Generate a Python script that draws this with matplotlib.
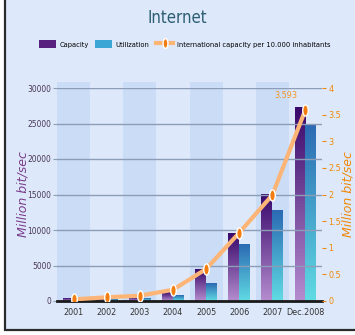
import numpy as np
import matplotlib.pyplot as plt
from matplotlib.patches import Rectangle, Patch
from matplotlib.lines import Line2D
from matplotlib.path import Path
from matplotlib.colors import LinearSegmentedColormap

years = ["2001", "2002", "2003", "2004", "2005", "2006", "2007", "Dec.2008"]
capacity = [350, 300, 550, 1150, 4400, 9500, 15000, 27300]
utilization = [150, 200, 350, 800, 2500, 8000, 12700, 24900]
per_10000 = [0.03, 0.07, 0.10, 0.21, 0.60, 1.28, 1.99, 3.593]

plt.rcParams["font.family"] = ["DejaVu Sans"]
plt.rcParams["font.stretch"] = "condensed"

fig = plt.figure(figsize=(3.55, 3.35), dpi=100)
fig.patch.set_facecolor("white")

# panel behind everything
panel = Rectangle((5 / 355, 5 / 335), 1.2, 1.2, transform=fig.transFigure,
                  facecolor="#dde9fb", edgecolor="#2b2b2b", lw=1.6, zorder=-10)
fig.add_artist(panel)

ax = fig.add_axes([57 / 355, 34 / 335, 265 / 355, 213 / 335])
ax.set_facecolor("none")
x = np.arange(len(years))

# alternating column bands
for i in x:
    if i % 2 == 0:
        ax.axvspan(i - 0.5, i + 0.5, ymin=0, ymax=1.03, color="#cadcf6",
                   lw=0, zorder=0, clip_on=False)

ax.set_yticks(np.arange(0, 30001, 5000))
ax.grid(axis="y", color="#8d9db8", lw=1.0, zorder=1)
ax.set_axisbelow(False)

w = 0.33
cap_cmap = LinearSegmentedColormap.from_list("cap", ["#b48cce", "#3a0a6c"])
util_cmap = LinearSegmentedColormap.from_list("util", ["#60dbe3", "#2c6ab3"])
grad = np.linspace(0, 1, 64).reshape(-1, 1)

bars_c = ax.bar(x - w / 2, capacity, width=w, color="none", lw=0, zorder=2)
bars_u = ax.bar(x + w / 2, utilization, width=w, color="none", lw=0, zorder=2)
for bars, cmap in ((bars_c, cap_cmap), (bars_u, util_cmap)):
    for b in bars:
        x0, h = b.get_x(), b.get_height()
        ax.imshow(grad, cmap=cmap, origin="lower", aspect="auto",
                  extent=(x0, x0 + b.get_width(), 0, h), zorder=2)
ax.set_xlim(-0.5, len(years) - 0.5)
ax.set_ylim(0, 30000)

for s in ("top", "right", "left"):
    ax.spines[s].set_visible(False)
ax.spines["bottom"].set_color("#1a1a1a")
ax.spines["bottom"].set_linewidth(2)
ax.spines["bottom"].set_zorder(5)

ax.set_xticks(x)
ax.set_xticklabels(years)
ax.tick_params(axis="x", length=0, pad=5, labelsize=6.5, labelcolor="#333333")
ax.tick_params(axis="y", length=3, color="#8d9db8", labelsize=6,
               labelcolor="#4a3658", pad=1)
ax.set_ylabel("Million bit/sec", color="#7a3d8c", style="italic",
              fontsize=9, fontstretch="normal")
ax.yaxis.set_label_coords(-0.105, 0.5)

ax2 = ax.twinx()
ax2.set_ylim(0, 4)
ax2.set_yticks(np.arange(0, 4.01, 0.5))
ax2.set_yticklabels(["0", "0.5", "1", "1.5", "2", "2.5", "3", "3.5", "4"])
for s in ax2.spines.values():
    s.set_visible(False)
ax2.tick_params(axis="y", length=3, color="#f0880a", labelcolor="#f0880a",
                labelsize=6.5, pad=1.5)
ax2.set_ylabel("Million bit/sec", color="#f0880a", style="italic",
               fontsize=9, fontstretch="normal", rotation=90)
ax2.yaxis.set_label_coords(1.072, 0.5)

t = np.linspace(0, 2 * np.pi, 40)
ellipse = Path(np.column_stack([0.5 * np.cos(t), np.sin(t)]))
ax2.plot(x, per_10000, color="#fcb577", lw=3, zorder=6,
         marker=ellipse, markersize=8, markerfacecolor="#f47d10",
         markeredgecolor="white", markeredgewidth=1.0)
ax2.annotate(f"{per_10000[-1]:.3f}", (x[-1], per_10000[-1]),
             xytext=(-14, 7), textcoords="offset points",
             color="#f7941d", fontsize=6.5, ha="center", va="bottom")

fig.text(0.5, 0.947, "Internet", ha="center", va="center",
         color="#2d5d72", fontsize=12)

handles = [
    Patch(facecolor="#56217f", edgecolor="none", label="Capacity"),
    Patch(facecolor="#3aa6d6", edgecolor="none", label="Utilization"),
    Line2D([], [], color="#fcb577", lw=3, marker=ellipse, markersize=7,
           markerfacecolor="#f47d10", markeredgecolor="white",
           label="International capacity per 10.000 inhabitants"),
]
fig.legend(handles=handles, loc="center", bbox_to_anchor=(0.52, 0.868),
           ncol=3, frameon=False, fontsize=5.4, handlelength=2.2,
           handleheight=1.3, handletextpad=0.5, columnspacing=0.9)

fig.savefig("out.png", dpi=100)
